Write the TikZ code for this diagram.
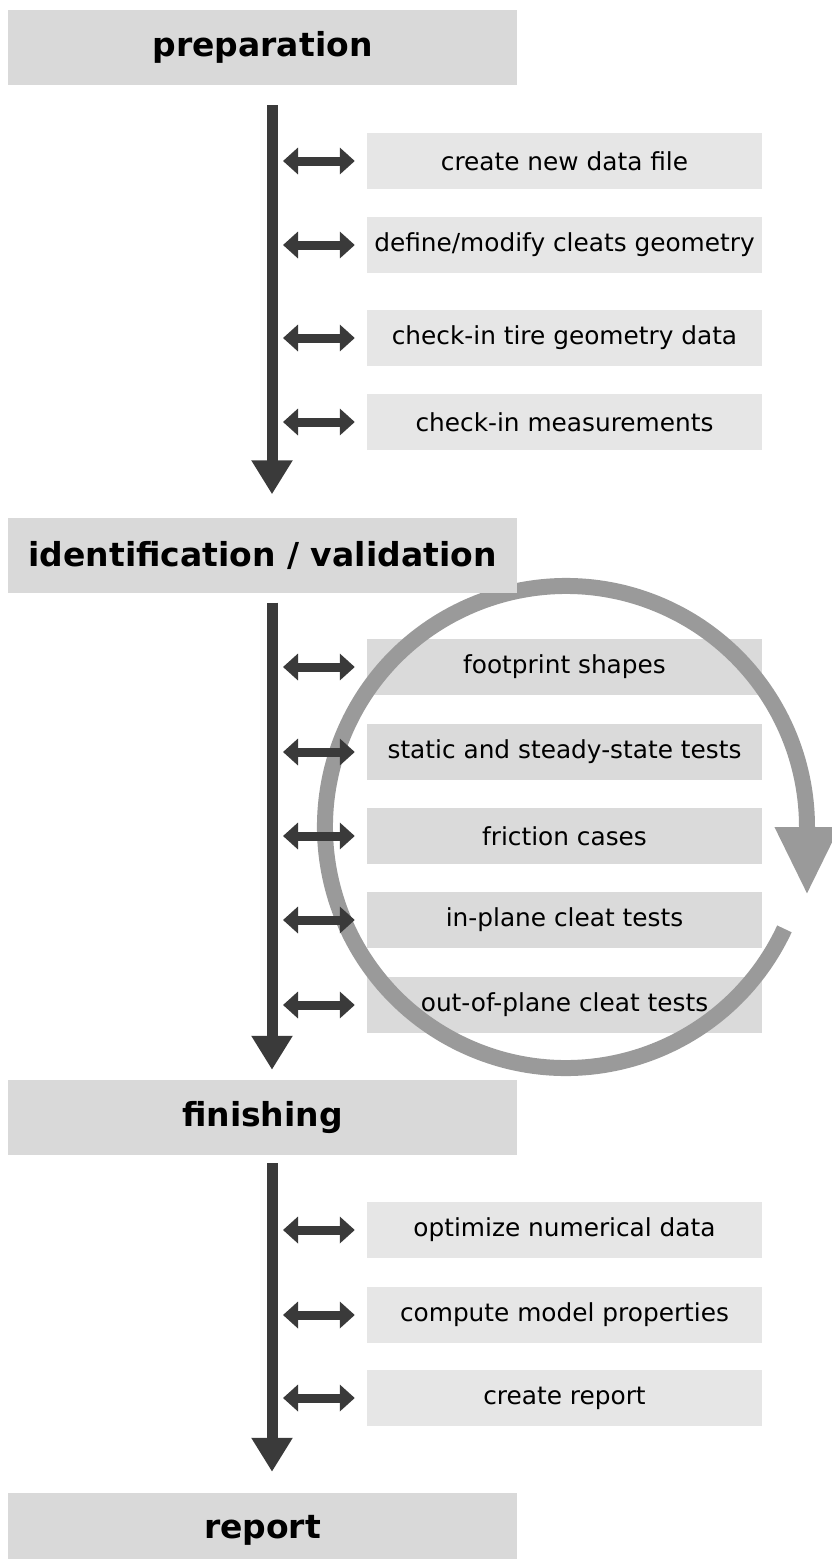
\documentclass[tikz,border=0pt]{standalone}
\usepackage{fontspec}
\setmainfont{DejaVu Sans}
\usetikzlibrary{arrows.meta,positioning}

\definecolor{phasegray}{HTML}{D9D9D9}
\definecolor{taskgray}{HTML}{E6E6E6}
\definecolor{loopgray}{HTML}{DADADA}
\definecolor{darkarrow}{HTML}{3A3A3A}
\definecolor{cyclegray}{HTML}{9A9A9A}

\pgfdeclarelayer{background}
\pgfdeclarelayer{middle}
\pgfsetlayers{background,middle,main}

\tikzset{
  phase/.style={fill=phasegray,minimum width=509pt,minimum height=75pt,inner sep=0pt,
    font=\bfseries\fontsize{33}{36}\selectfont},
  task/.style={minimum width=395pt,minimum height=55pt,inner sep=0pt,
    font=\fontsize{24.8}{28}\selectfont},
  spine/.style={draw=darkarrow,line width=11pt,-{Triangle[length=34pt,width=39pt]}},
  link/.style={draw=darkarrow,line width=9pt,
    {Triangle[length=15pt,width=26pt]}-{Triangle[length=15pt,width=26pt]},shorten >=12pt},
  cycle/.style={draw=cyclegray,line width=16pt,-{Triangle[length=68pt,width=60pt]}}
}

\begin{document}
\begin{tikzpicture}[x=1pt,y=-1pt]
  \useasboundingbox (0,0) rectangle (832,1559);
  % the four phases
  \node[phase] (prep) at (262.5,47.5) {preparation};
  \node[phase] (ident) at (262.5,555) {identification / validation};
  \node[phase] (finish) at (262.5,1117.5) {finishing};
  \node[phase] (report) at (262.5,1530.5) {report};
  % tasks of each phase
  \foreach \name/\y/\col/\txt in {
      t1/161/taskgray/create new data file,
      t2/245/taskgray/{define/modify cleats geometry},
      t3/338/taskgray/check-in tire geometry data,
      t4/422/taskgray/check-in measurements,
      t5/667/loopgray/footprint shapes,
      t6/752/loopgray/static and steady-state tests,
      t7/836/loopgray/friction cases,
      t8/920/loopgray/in-plane cleat tests,
      t9/1005/loopgray/out-of-plane cleat tests,
      t10/1230/taskgray/optimize numerical data,
      t11/1315/taskgray/compute model properties,
      t12/1398/taskgray/create report}{
    \node[task] (\name) at (564.5,\y) {\txt};
    \begin{pgfonlayer}{background}
      \fill[\col] (\name.south west) rectangle (\name.north east);
    \end{pgfonlayer}
    \coordinate (\name-l) at (283,\y);
    \draw[link] (\name-l) -- (\name.west);
  }
  % main flow
  \foreach \a/\b/\s/\t in {prep/ident/20/23,ident/finish/10/10,finish/report/8/21}
    \draw[spine,shorten <=\s,shorten >=\t] ([xshift=9.5]\a.south) -- ([xshift=9.5]\b.north);
  % iteration loop
  \coordinate (loopc) at (566,827);
  \begin{pgfonlayer}{middle}
    \draw[cycle] ([shift={(25:241)}]loopc) arc[start angle=25,end angle=360,radius=241]
      -- ++(0,68);
  \end{pgfonlayer}
\end{tikzpicture}
\end{document}
